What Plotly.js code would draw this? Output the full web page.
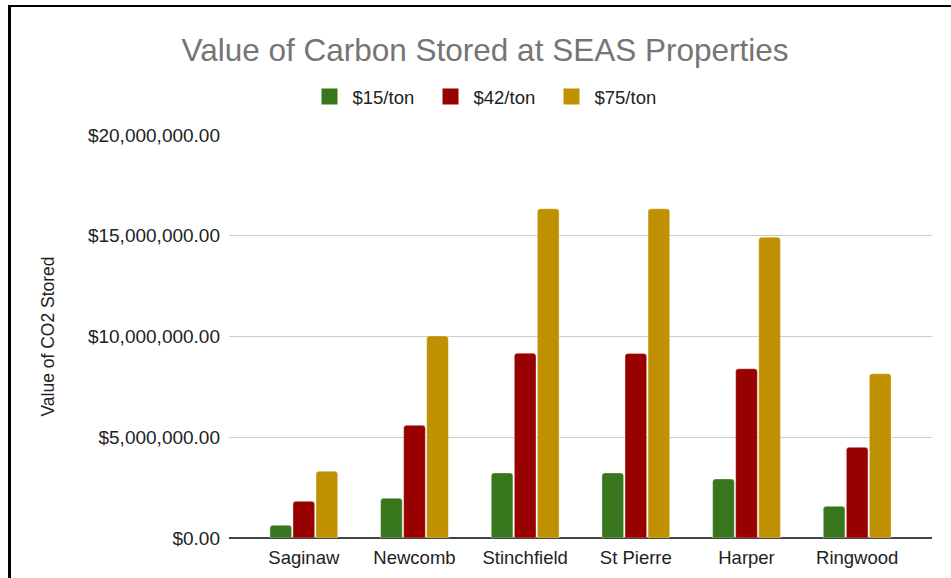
<!DOCTYPE html>
<html>
<head>
<meta charset="utf-8">
<script src="https://cdn.plot.ly/plotly-3.0.1.min.js"></script>
<style>
  html, body { margin: 0; padding: 0; background: #fff; }
  #wrap { position: relative; width: 951px; height: 578px; overflow: hidden; }
  #chart { width: 951px; height: 578px; }
  #frame { position: absolute; left: 8px; top: 5px; width: 960px; height: 600px;
           border-top: 2.5px solid #000; border-left: 3px solid #000; pointer-events: none; }
</style>
</head>
<body>
<div id="wrap">
  <div id="chart"></div>
  <div id="frame"></div>
</div>
<script>
const properties = ["Saginaw", "Newcomb", "Stinchfield", "St Pierre", "Harper", "Ringwood"];
const seriesNames = ["$15/ton", "$42/ton", "$75/ton"];
const value15 = [630000, 1970000, 3230000, 3230000, 2930000, 1570000];
const value42 = [1820000, 5590000, 9170000, 9160000, 8400000, 4500000];
const value75 = [3310000, 10030000, 16340000, 16340000, 14930000, 8150000];
const yTicks = [0, 5000000, 10000000, 15000000, 20000000];

const colors = ["#38761d", "#990000", "#bf9000"];
const seriesValues = [value15, value42, value75];

const font = "Arial, 'Liberation Sans', sans-serif";

const barTraces = seriesNames.map((name, i) => ({
  type: "bar",
  name: name,
  legendgroup: name,
  showlegend: false,
  x: properties,
  y: seriesValues[i],
  marker: { color: colors[i], line: { width: 0.6, color: "rgba(255,255,255,0.6)" } },
  hoverinfo: "x+y+name"
}));

// legend-only entries (larger square swatches like the original)
const legendTraces = seriesNames.map((name, i) => ({
  type: "scatter",
  mode: "markers",
  name: name,
  legendgroup: name,
  x: [null],
  y: [null],
  marker: { symbol: "square", size: 16, color: colors[i], line: { width: 0 } },
  hoverinfo: "skip"
}));

const layout = {
  width: 951,
  height: 578,
  margin: { l: 229, r: 19, t: 135, b: 40 },
  paper_bgcolor: "#ffffff",
  plot_bgcolor: "#ffffff",
  font: { family: font, color: "#222222", size: 18 },
  title: {
    text: "Value of Carbon Stored at SEAS Properties",
    font: { family: font, size: 31.5, color: "#757575" },
    xref: "container", x: 485 / 951, xanchor: "center",
    yref: "container", y: 1 - 50 / 578, yanchor: "middle"
  },
  showlegend: true,
  legend: {
    orientation: "h",
    xref: "container", x: 488 / 951, xanchor: "center",
    yref: "container", y: 1 - 97 / 578, yanchor: "middle",
    font: { family: font, size: 18.5, color: "#222222" },
    itemwidth: 36,
    entrywidth: 70,
    itemsizing: "trace",
    traceorder: "normal"
  },
  barmode: "group",
  bargap: 0.375,
  bargroupgap: 0.06,
  barcornerradius: 3,
  xaxis: {
    type: "category",
    range: [-0.676, 5.676],
    showgrid: false,
    showline: false,
    zeroline: false,
    ticks: "",
    tickfont: { family: font, size: 18.5, color: "#222222" },
    ticklabelstandoff: 6,
    fixedrange: true
  },
  yaxis: {
    range: [0, 20000000],
    tickvals: yTicks,
    tickformat: "$,.2f",
    showgrid: true,
    gridcolor: "#cccccc",
    gridwidth: 1,
    zeroline: true,
    zerolinecolor: "#444444",
    zerolinewidth: 1.5,
    showline: false,
    ticks: "",
    ticklabelstandoff: 8,
    tickfont: { family: font, size: 19, color: "#222222" },
    title: {
      text: "Value of CO2 Stored",
      font: { family: font, size: 17.5, color: "#222222" },
      standoff: 28
    },
    fixedrange: true
  }
};

Plotly.newPlot("chart", barTraces.concat(legendTraces), layout, { displayModeBar: false, staticPlot: true });
</script>
</body>
</html>
